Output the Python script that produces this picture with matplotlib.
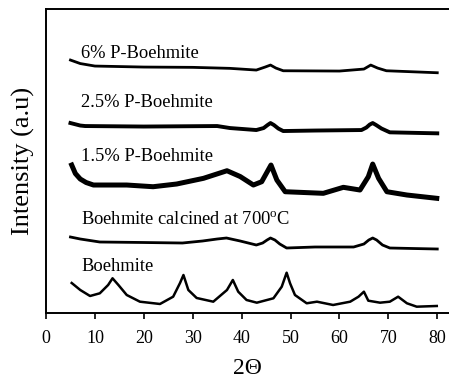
import matplotlib
matplotlib.use("Agg")
import matplotlib.pyplot as plt

plt.rcParams['font.family'] = ['Liberation Serif', 'DejaVu Serif']
plt.rcParams['mathtext.fontset'] = 'custom'
plt.rcParams['mathtext.rm'] = 'Liberation Serif'

# 2-theta positions and stacked intensities (a.u.)
x_boe = [5.25, 7, 9, 11, 12.7, 13.6, 14.8, 16.5, 19.2, 23.3, 26, 27.4, 28.1, 29.1, 30.8, 34.2,
         37, 38.2, 39.3, 41, 43.1, 46.5, 48.2, 49.2, 49.9, 50.9, 53.3, 55.4, 58.7, 62.2, 63.9, 65,
         65.9, 68.3, 70.3, 72, 73.8, 75.8, 79.9]
y_boe = [30, 23, 17, 19.7, 28, 34.7, 28, 18, 11.3, 9, 16.3, 30, 38, 23, 15, 11.3,
         23, 33, 21.3, 13, 10.3, 14.7, 26.3, 40.3, 29.7, 18, 9.7, 11.3, 8, 11.3, 16.3, 21.3,
         12.3, 10.3, 11.3, 16.3, 9.7, 6.3, 7]

x_cal = [5, 7, 11, 20, 27.9, 32, 35, 36.9, 39.7, 43, 44.3, 45.2, 45.9, 46.8, 47.8, 49.2, 55, 62.9,
         65, 66, 66.8, 67.6, 68.8, 70.3, 75, 80]
y_cal = [76, 74, 71, 70.5, 70, 72, 74, 75, 72, 68, 70, 73, 75, 73, 69, 65, 66, 66,
         69, 73, 75, 73, 68, 65, 64.5, 64]

x_p15 = [5.25, 6, 7, 8.2, 9.7, 16.5, 21.9, 26.7, 32.2, 37, 39.7, 42.4, 44.1, 46, 47.2, 48.9, 56.7,
         60.8, 64.2, 65.9, 66.8, 68, 69.7, 73.8, 79.9]
y_p15 = [148, 139.5, 134, 130.5, 128, 128, 126.3, 129, 134.7, 142.3, 136.5, 128, 131.3, 148, 133, 121.3,
         119.7, 125.7, 123, 136.3, 149, 134.7, 121.3, 118, 114.7]

x_p25 = [5, 7, 8, 20, 35, 37.6, 43, 44.5, 45.3, 45.9, 46.6, 47.5, 48.5, 55, 64.5, 65.5, 66.2, 66.8,
         67.5, 68.6, 70.3, 80]
y_p25 = [190, 187.5, 187, 186.5, 187, 185, 183, 185, 188, 190, 188, 184.5, 182, 182.5, 183, 185.5,
         188.5, 190, 188, 184.5, 180.7, 179.7]

x_p6 = [5, 7, 10, 20, 30, 37.6, 43, 44.8, 45.9, 47, 48.5, 60, 65, 66.4, 67.8, 69.6, 80]
y_p6 = [253, 249.5, 247, 246, 245.7, 244.7, 243, 246, 248, 245, 242.3, 242, 244, 248, 245, 242.3, 240.3]

labels = ['Boehmite', 'Boehmite calcined at 700$^{\\mathrm{o}}$C', '1.5% P-Boehmite',
          '2.5% P-Boehmite', '6% P-Boehmite']
label_y = [46, 93, 157, 211, 260]

fig = plt.figure(figsize=(4.49, 3.78), dpi=100)
ax = fig.add_axes([0.1025, 0.172, 0.8975, 0.804])

ax.plot(x_boe, y_boe, color='black', lw=1.8)
ax.plot(x_cal, y_cal, color='black', lw=2.0)
ax.plot(x_p15, y_p15, color='black', lw=3.6)
ax.plot(x_p25, y_p25, color='black', lw=2.8)
ax.plot(x_p6, y_p6, color='black', lw=2.0)

for txt, ty in zip(labels, label_y):
    ax.text(7.2, ty, txt, fontsize=13.3, va='center', ha='left')

ax.set_xlim(0, 82.4)
ax.set_ylim(0, 304)
ax.set_xticks(range(0, 81, 10))
ax.set_yticks([])
ax.tick_params(axis='x', direction='out', length=4, width=1.2, labelsize=13, pad=8)
for s in ax.spines.values():
    s.set_linewidth(1.4)
ax.spines['right'].set_visible(False)

ax.set_xlabel('2Θ', fontsize=17, labelpad=8)
ax.set_ylabel('Intensity (a.u)', fontsize=19, labelpad=8)

fig.savefig('out.png', dpi=100)
